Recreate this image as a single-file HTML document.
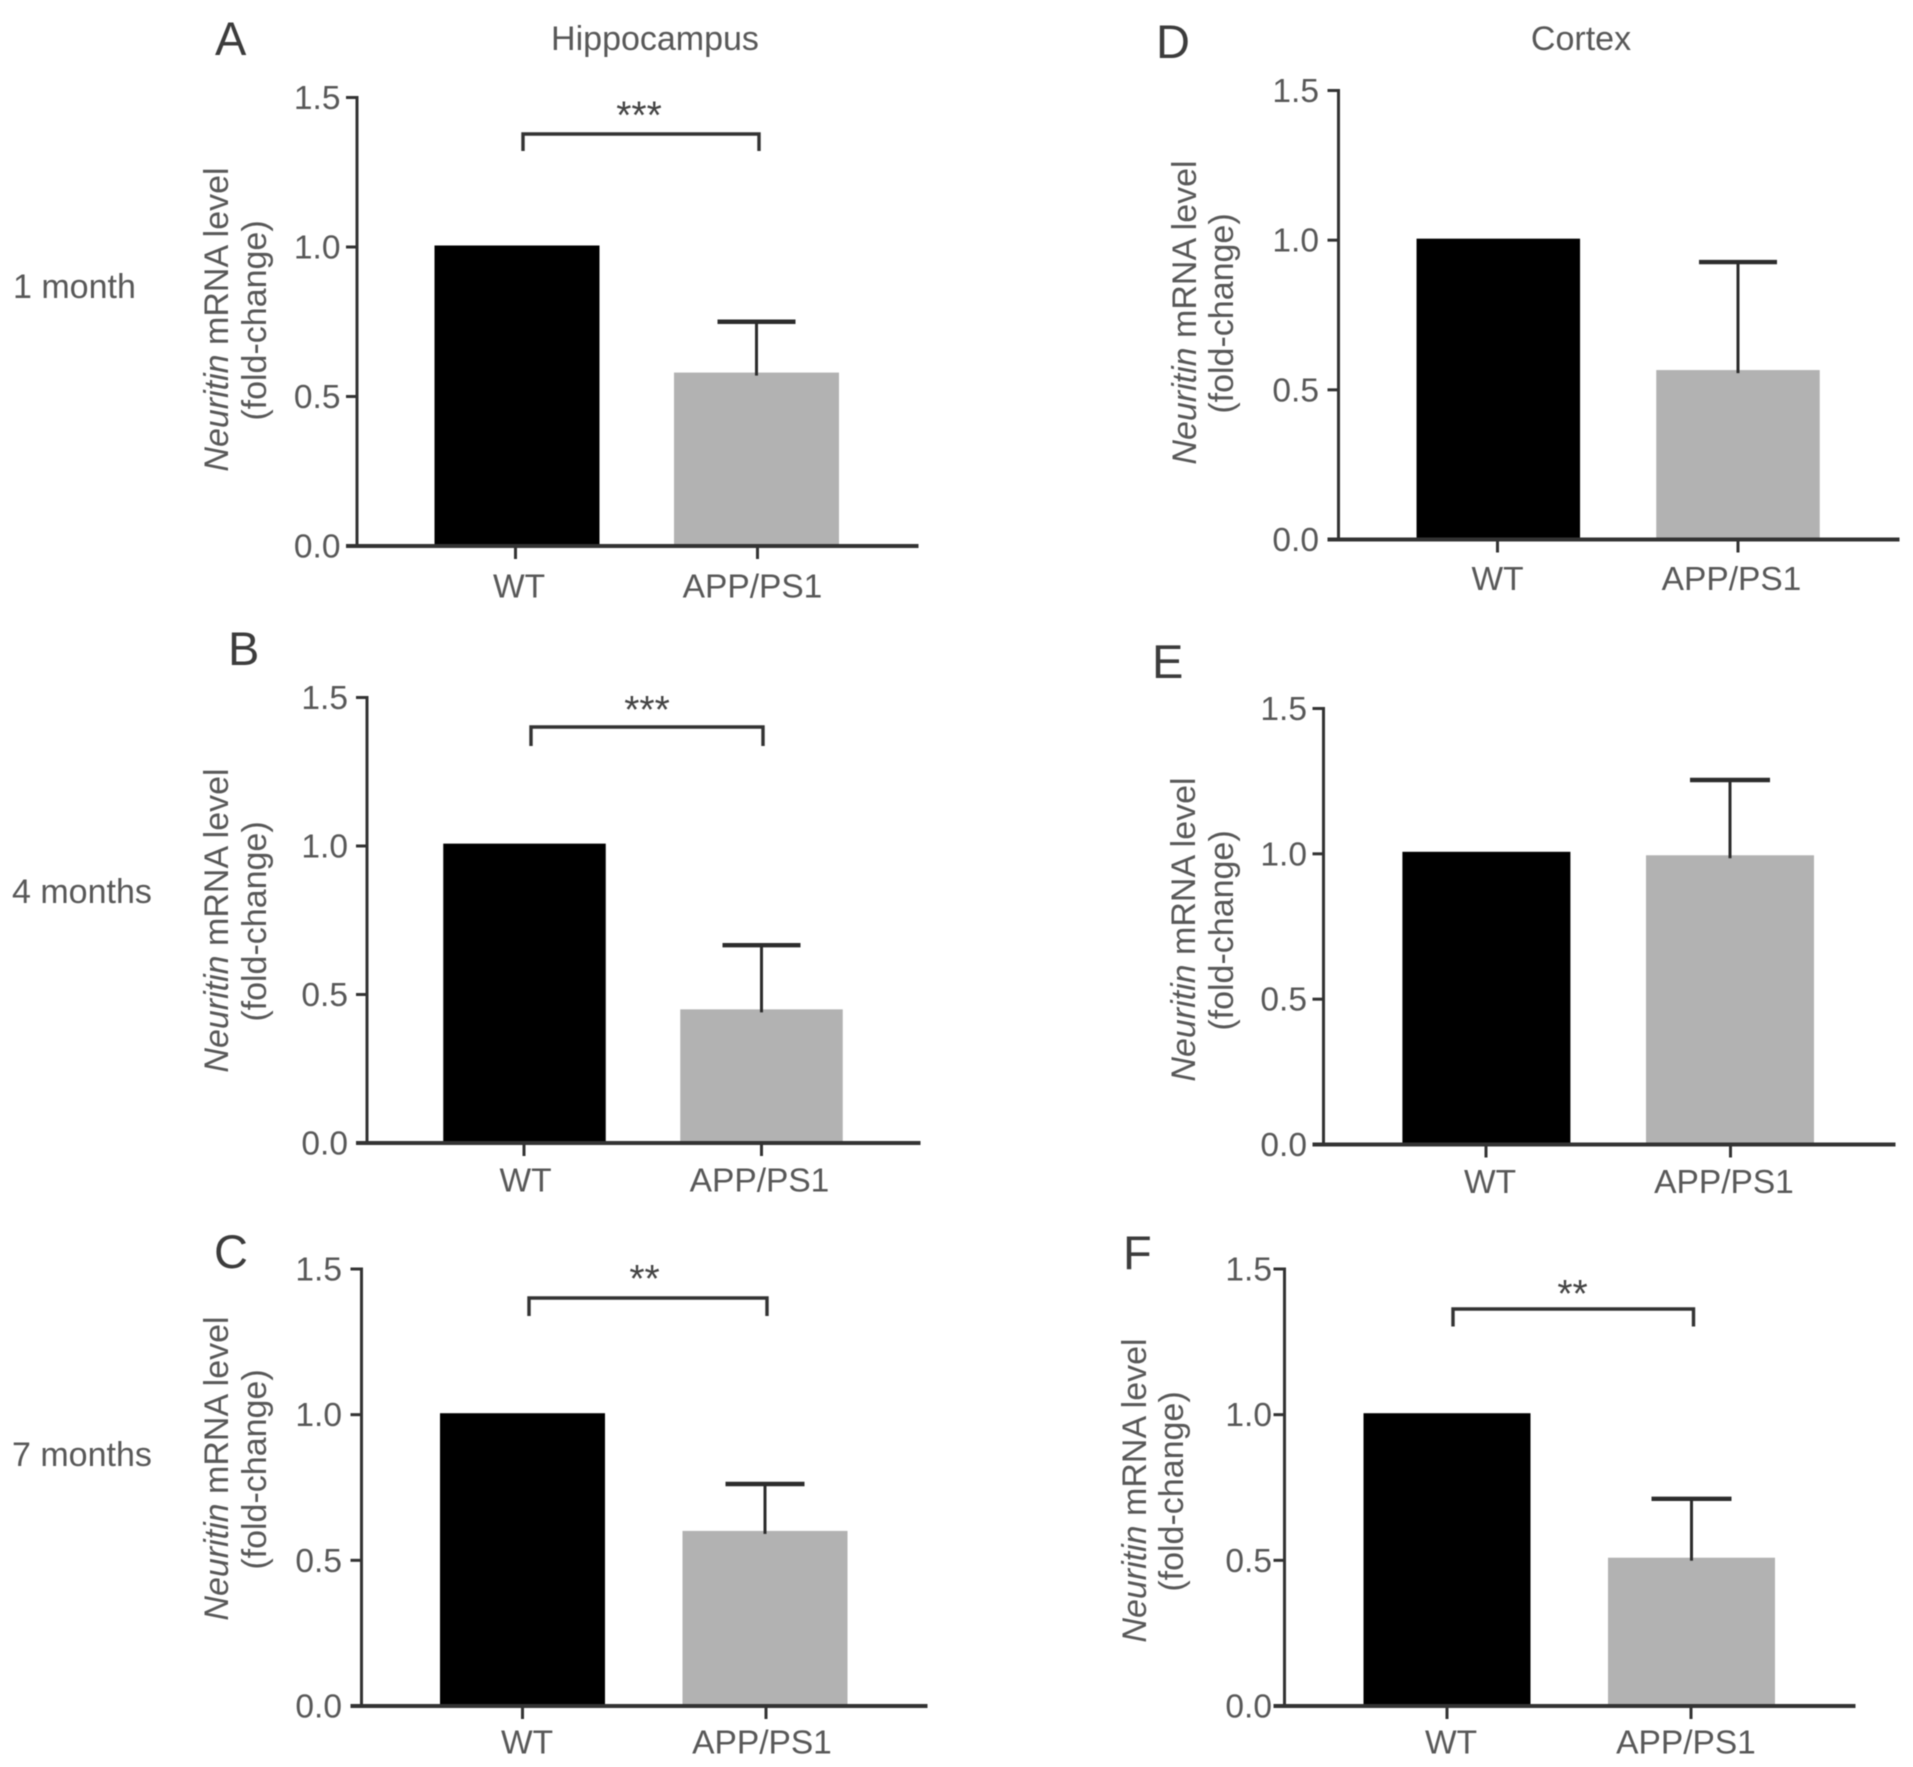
<!DOCTYPE html>
<html lang="en">
<head>
<meta charset="utf-8">
<title>Neuritin mRNA level in hippocampus and cortex</title>
<style>
  html, body { margin: 0; padding: 0; background: #fff; }
  svg { display: block; filter: blur(0.6px); }
  text { font-family: "Liberation Sans", sans-serif; fill: #585858; }
  .letter { font-size: 47px; fill: #3c3c3c; }
  .big { font-size: 34px; }
  .tick { font-size: 33.5px; text-anchor: end; }
  .cat { font-size: 33.5px; text-anchor: middle; }
  .ytitle { font-size: 34px; text-anchor: middle; }
  .star { font-size: 39px; text-anchor: middle; fill: #444; }
</style>
</head>
<body>
<svg id="figure" xmlns="http://www.w3.org/2000/svg" width="1913" height="1767" viewBox="0 0 1913 1767">
  <rect width="1913" height="1767" fill="#fff"/>

  <text class="big" x="655" y="50" text-anchor="middle">Hippocampus</text>
  <text class="big" x="1581" y="50" text-anchor="middle">Cortex</text>

  <text class="big" x="13" y="298">1 month</text>
  <text class="big" x="12" y="903">4 months</text>
  <text class="big" x="12" y="1466">7 months</text>

  <text class="letter" x="215" y="55">A</text>
  <text class="letter" x="228" y="665">B</text>
  <text class="letter" x="214" y="1268">C</text>
  <text class="letter" x="1156" y="58">D</text>
  <text class="letter" x="1152" y="678">E</text>
  <text class="letter" x="1123" y="1269">F</text>

  <text class="ytitle" transform="translate(228 319.5) rotate(-90)"><tspan font-style="italic">Neuritin</tspan> mRNA level</text>
  <text class="ytitle" transform="translate(266 320.5) rotate(-90)">(fold-change)</text>
  <text class="ytitle" transform="translate(228 920.5) rotate(-90)"><tspan font-style="italic">Neuritin</tspan> mRNA level</text>
  <text class="ytitle" transform="translate(266 921.5) rotate(-90)">(fold-change)</text>
  <text class="ytitle" transform="translate(228 1468.5) rotate(-90)"><tspan font-style="italic">Neuritin</tspan> mRNA level</text>
  <text class="ytitle" transform="translate(266 1469.5) rotate(-90)">(fold-change)</text>
  <text class="ytitle" transform="translate(1196 312.5) rotate(-90)"><tspan font-style="italic">Neuritin</tspan> mRNA level</text>
  <text class="ytitle" transform="translate(1233 313.5) rotate(-90)">(fold-change)</text>
  <text class="ytitle" transform="translate(1195 929.5) rotate(-90)"><tspan font-style="italic">Neuritin</tspan> mRNA level</text>
  <text class="ytitle" transform="translate(1233 930.5) rotate(-90)">(fold-change)</text>
  <text class="ytitle" transform="translate(1146 1490.5) rotate(-90)"><tspan font-style="italic">Neuritin</tspan> mRNA level</text>
  <text class="ytitle" transform="translate(1183 1491.5) rotate(-90)">(fold-change)</text>
</svg>

<script>
// ---- chart data ----
const panelIds = ['a', 'b', 'c', 'd', 'e', 'f'];
const categories = ['WT', 'APP/PS1'];
const yTickValues = [0, 0.5, 1.0, 1.5];
const yTickLabels = ['0.0', '0.5', '1.0', '1.5'];
const wtMeans = [1.005, 1.008, 1.005, 1.005, 1.007, 1.005];
const appMeans = [0.58, 0.45, 0.601, 0.566, 0.995, 0.509];
const appErrorTops = [0.75, 0.666, 0.762, 0.927, 1.254, 0.711];
const significance = ['***', '***', '**', '', '', '**'];
const yAxisMax = 1.5;

// ---- layout for each panel (geometry only, no data values) ----
const layout = {
  a: { ax: 357,    top: 97.5,  base: 546,  end: 918.5,  b0: 517,    b1: 756.5,  bw: 165,   labR: 340.5, catY: 597.5,  cat0: 519,    cat1: 752.5,  tick0: 515.5, tick1: 757.5, cap: 78, br: [523, 759, 134, 151],     starX: 639,    starY: 128.5 },
  b: { ax: 367,    top: 697.5, base: 1143, end: 920.5,  b0: 524.5,  b1: 761.5,  bw: 162.5, labR: 348,   catY: 1191.5, cat0: 525.5,  cat1: 759.5,  tick0: 524,   tick1: 761.5, cap: 78, br: [531, 763, 727, 746],     starX: 647,    starY: 723 },
  c: { ax: 361.5,  top: 1269,  base: 1706, end: 927.5,  b0: 522.5,  b1: 765,    bw: 165,   labR: 342,   catY: 1753.5, cat0: 527,    cat1: 762,    tick0: 522.5, tick1: 766,   cap: 79, br: [529, 767, 1298, 1316],   starX: 644.5,  starY: 1292 },
  d: { ax: 1338.5, top: 90.5,  base: 539.5, end: 1899.5, b0: 1498.3, b1: 1738,  bw: 163.5, labR: 1319,  catY: 590,    cat0: 1497.5, cat1: 1731.5, tick0: 1497.5, tick1: 1738, cap: 78 },
  e: { ax: 1323.5, top: 708.5, base: 1144.5, end: 1895.5, b0: 1486.4, b1: 1730, bw: 168,   labR: 1307,  catY: 1193,   cat0: 1490,   cat1: 1724,   tick0: 1486,  tick1: 1730.5, cap: 80 },
  f: { ax: 1284.5, top: 1269,  base: 1706, end: 1855.5, b0: 1447,   b1: 1691.5, bw: 167,   labR: 1272,  catY: 1753.5, cat0: 1451,   cat1: 1686,   tick0: 1447,  tick1: 1691,  cap: 80, br: [1453, 1693.5, 1309, 1326.5], starX: 1572.5, starY: 1307 }
};

const NS = 'http://www.w3.org/2000/svg';
const fig = document.getElementById('figure');
const AXIS = '#333';

function make(tag, attrs, parent) {
  const el = document.createElementNS(NS, tag);
  for (const k in attrs) el.setAttribute(k, attrs[k]);
  parent.appendChild(el);
  return el;
}

panelIds.forEach(function (id, p) {
  const L = layout[id];
  const yScale = function (v) { return L.base - (v / yAxisMax) * (L.base - L.top); };
  const xScale = function (i) { return L.b0 + i * (L.b1 - L.b0); };

  const g = make('g', {}, fig);
  
  

  // bars
  const wtY = yScale(wtMeans[p]);
  const wtBar = make('rect', { x: xScale(0) - L.bw / 2, y: wtY, width: L.bw, height: L.base - wtY, fill: '#000' }, g);
  
  

  const appY = yScale(appMeans[p]);
  const appBar = make('rect', { x: xScale(1) - L.bw / 2, y: appY, width: L.bw, height: L.base - appY, fill: '#b2b2b2' }, g);
  
  

  // error bar
  const errY = yScale(appErrorTops[p]);
  const stem = make('line', { x1: xScale(1), x2: xScale(1), y1: appY + 3, y2: errY, stroke: '#2c2c2c', 'stroke-width': 3 }, g);
  
  

  const cap = make('line', { x1: xScale(1) - L.cap / 2, x2: xScale(1) + L.cap / 2, y1: errY, y2: errY, stroke: '#2c2c2c', 'stroke-width': 4.4 }, g);
  
  

  // y axis
  const yAxis = make('line', { x1: L.ax, x2: L.ax, y1: L.top - 1.5, y2: L.base, stroke: AXIS, 'stroke-width': 3 }, g);
  
  

  yTickValues.forEach(function (v, i) {
    const ty = yScale(v);
    const tick = make('line', { x1: L.ax - 11, x2: L.ax, y1: ty, y2: ty, stroke: AXIS, 'stroke-width': 3 }, g);
    
    

    const lab = make('text', { class: 'tick', x: L.labR, y: ty + 11.5 }, g);
    lab.textContent = yTickLabels[i];
    
    
  });

  // x axis
  const xAxis = make('line', { x1: L.ax - 11, x2: L.end, y1: L.base, y2: L.base, stroke: AXIS, 'stroke-width': 4 }, g);
  
  

  categories.forEach(function (c, i) {
    const tx = i === 0 ? L.tick0 : L.tick1;
    const tick = make('line', { x1: tx, x2: tx, y1: L.base, y2: L.base + 13, stroke: AXIS, 'stroke-width': 3 }, g);
    
    

    const lab = make('text', { class: 'cat', x: i === 0 ? L.cat0 : L.cat1, y: L.catY }, g);
    lab.textContent = c;
    
    
  });

  // significance bracket
  if (significance[p]) {
    const b = L.br;
    const bracket = make('path', { d: 'M' + b[0] + ' ' + b[3] + 'V' + b[2] + 'H' + b[1] + 'V' + b[3], fill: 'none', stroke: '#333', 'stroke-width': 3.4 }, g);
    
    

    const star = make('text', { class: 'star', x: L.starX, y: L.starY }, g);
    star.textContent = significance[p];
    
    
  }
});
</script>
</body>
</html>
